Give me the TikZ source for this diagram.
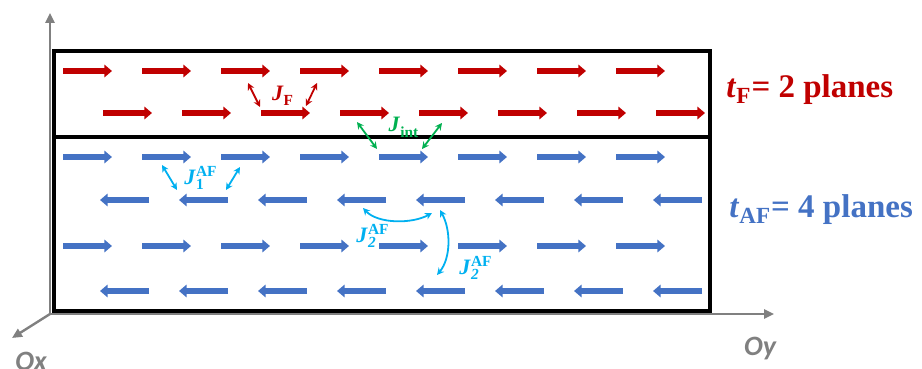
\documentclass[tikz,border=0pt]{standalone}
\usepackage{amsmath}
\usepackage{fontspec}
\setmainfont{Liberation Serif}
\newfontfamily\axisfont{Carlito}
\usepackage{tikz}
\usetikzlibrary{arrows.meta}
\definecolor{spinred}{RGB}{192,0,0}
\definecolor{spinblue}{RGB}{68,114,196}
\definecolor{jgreen}{RGB}{0,176,80}
\definecolor{jcyan}{RGB}{0,176,240}
\definecolor{axisgray}{RGB}{128,128,128}
\newcommand{\Jc}[2]{$\textbf{\textit{J}}_{\textbf{#1}}^{\textbf{#2}}$}

\begin{document}
\begin{tikzpicture}[x=0.5pt,y=-0.5pt,
  font=\bfseries,
  spinF/.style={draw=spinred, line width=3pt, -{Triangle[length=3.8pt,width=6.2pt]}},
  spinAF/.style={draw=spinblue, line width=3pt, -{Triangle[length=3.8pt,width=6.2pt]}},
  coupl/.style={line width=0.9pt, {Stealth[length=3.5pt,width=3.5pt]}-{Stealth[length=3.5pt,width=3.5pt]}},
  axis/.style={draw=axisgray, line width=1.2pt, -{Triangle[length=5pt,width=4.5pt]}},
  axislabel/.style={text=axisgray, font=\axisfont\bfseries\itshape\fontsize{14}{16}\selectfont},
  jlabel/.style={font=\fontsize{11}{12}\selectfont, inner sep=0pt},
  planes/.style={font=\bfseries\fontsize{16.5}{18}\selectfont, anchor=west, inner sep=0pt},
  layer/.style={draw=black, line width=1.6pt}]
  \useasboundingbox (0,0) rectangle (922,369);
  \coordinate (O) at (50,314);
  \draw[axis] (O) -- (50,13);
  \draw[axis] (O) -- (774,314);
  \draw[axis] (O) -- (12,338);
  \node[axislabel] (ox) at (31,361) {Ox};
  \node[axislabel] (oy) at (760,349) {Oy};
  \draw[layer] (54,51) rectangle (710,311);
  \draw[layer] (54,137) -- (710,137);
  \foreach \x in {63,142,...,616} {
    \draw[spinF] (\x,71) -- ++(49,0);
    \draw[spinAF] (\x,157) -- ++(49,0);
    \draw[spinAF] (\x,246) -- ++(49,0);
  }
  \foreach \x in {103,182,...,656}
    \draw[spinF] (\x,113) -- ++(49,0);
  \foreach \x in {100,179,...,653} {
    \draw[spinAF] (\x+49,200) -- (\x,200);
    \draw[spinAF] (\x+49,291) -- (\x,291);
  }
  \coordinate (jf1a) at (248,83);
  \coordinate (jf1b) at (260,107);
  \coordinate (jf2a) at (317,83);
  \coordinate (jf2b) at (306,106);
  \draw[coupl, spinred] (jf1a) -- (jf1b);
  \draw[coupl, spinred] (jf2a) -- (jf2b);
  \node[jlabel, text=spinred] (jf) at (283,96) {\Jc{F}{}};
  \coordinate (ji1a) at (357,122);
  \coordinate (ji1b) at (377,149);
  \coordinate (ji2a) at (442,123);
  \coordinate (ji2b) at (422,149);
  \draw[coupl, jgreen] (ji1a) -- (ji1b);
  \draw[coupl, jgreen] (ji2a) -- (ji2b);
  \node[jlabel, text=jgreen] (jint) at (404,127) {\Jc{int}{}};
  \coordinate (ja1a) at (162,165);
  \coordinate (ja1b) at (177,190);
  \coordinate (ja2a) at (240,167);
  \coordinate (ja2b) at (226,190);
  \draw[coupl, jcyan] (ja1a) -- (ja1b);
  \draw[coupl, jcyan] (ja2a) -- (ja2b);
  \node[jlabel, text=jcyan] (jaf1) at (201,178) {\Jc{1}{AF}};
  \coordinate (jb1a) at (363,208);
  \coordinate (jb1b) at (432,213);
  \coordinate (jb2a) at (440,210);
  \coordinate (jb2b) at (437,275);
  \draw[coupl, jcyan] (jb1a) .. controls (378,224) and (412,224) .. (jb1b);
  \draw[coupl, jcyan] (jb2a) .. controls (451,230) and (451,258) .. (jb2b);
  \node[jlabel, text=jcyan] (jaf2) at (373,236) {\Jc{\textit{2}}{AF}};
  \node[jlabel, text=jcyan] (jaf3) at (476,268) {\Jc{\textit{2}}{AF}};
  \node[planes, text=spinred] (tf) at (726,90) {\textit{t}$_{\textbf{F}}$= 2 planes};
  \node[planes, text=spinblue] (taf) at (729,210) {\textit{t}$_{\textbf{AF}}$= 4 planes};
\end{tikzpicture}
\end{document}
